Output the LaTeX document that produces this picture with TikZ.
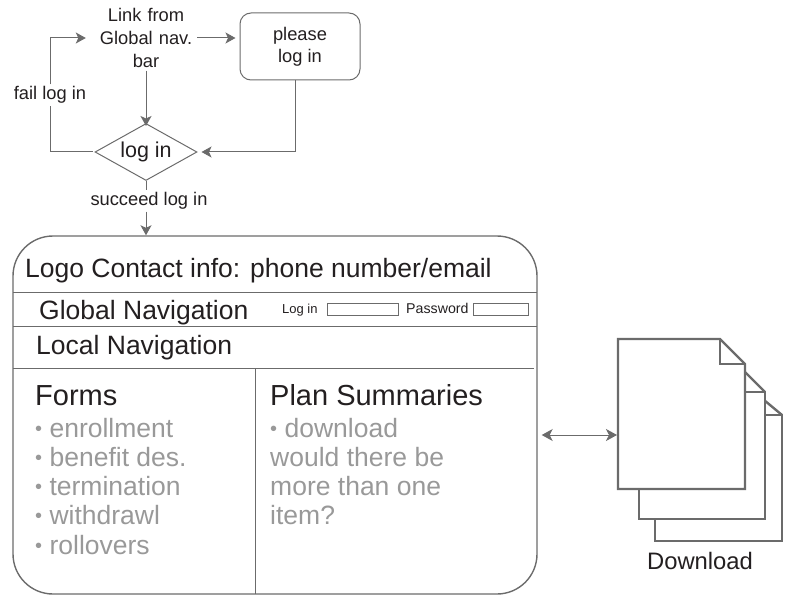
\documentclass[tikz,border=0pt]{standalone}
\usepackage{fontspec}
\setmainfont{Liberation Sans}
\usetikzlibrary{shapes.geometric, arrows.meta}
\definecolor{linegray}{HTML}{6B6B6B}
\definecolor{itemgray}{HTML}{999999}
\definecolor{textdark}{HTML}{231F20}
\newcommand{\fsize}[1]{\fontsize{#1}{#1}\selectfont}
\newcommand{\dotmark}{{\fsize{20}\raisebox{1.5pt}{•}}}
\begin{document}
\begin{tikzpicture}[x=1pt, y=-1pt, text=textdark]
		\tikzstyle{Flow} = [inner sep=0pt, align=center, font=\fsize{18.3}]
		\tikzstyle{Label} = [Flow, fill=white, inner sep=2pt]
		\tikzstyle{Box} = [rectangle, rounded corners=11pt, minimum width=120pt, minimum height=67pt, align=center, font=\fsize{18.3}, draw=linegray, line width=1pt]
		\tikzstyle{Decision} = [diamond, aspect=1.79, minimum width=102pt, minimum height=57pt, inner sep=0pt, font=\fsize{21.5}, draw=linegray, line width=1pt]
		\tikzstyle{arrow} = [line width=1pt, draw=linegray, -{Stealth[length=10pt, width=11pt, inset=2.5pt]}]
		\tikzstyle{plain} = [line width=1pt, draw=linegray]
		\tikzstyle{Big} = [inner sep=0pt, anchor=base west, font=\fsize{26.5}]
		\tikzstyle{Head} = [Big, font=\fsize{29}]
		\tikzstyle{Item} = [Big, text=itemgray]
		\tikzstyle{Small} = [inner sep=0pt, anchor=base west, font=\fsize{13}]
		\tikzstyle{Field} = [line width=1pt, draw=linegray]
		\tikzstyle{Sheet} = [line width=2.4pt, draw=linegray, fill=white, line join=miter]
		
		\useasboundingbox (0,0) rectangle (791,596);
		
		\node (link) [Flow, text width=100pt, inner ysep=3pt] at (146,38) {Link from\\[4.5pt]Global nav.\\[4.5pt]bar};
		\node (please) [Box] at (300,46.5) {please\\[3.5pt]log in};
		\node (login) [Decision] at (146,152) {log in};
		\node (fail) [Label] at (50,95) {fail log in};
		\node (succeed) [Label] at (149,201) {succeed log in};
		\node (page) [rectangle, rounded corners=40pt, minimum width=524pt, minimum height=358pt, draw=linegray, line width=1.4pt] at (275,415) {};
		
		\draw [arrow] ([xshift=1pt]link.east |- link) -- ([xshift=-4pt]please.west |- link);
		\draw [arrow] (link.south) -- ([yshift=-3pt]login.north);
		\draw [arrow] ([xshift=-5pt]please.south) |- ([xshift=4pt]login.east);
		\draw [plain] ([xshift=-2pt]login.west) -| (fail.south);
		\draw [arrow] (fail.north) |- ([xshift=-10pt]link.west);
		\draw [plain] (login.south) -- (login.south |- succeed.north);
		\draw [arrow] (login.south |- succeed.south) -- (login.south |- page.north);
		
		\draw [plain] (13,292) -- (537,292);
		\draw [plain] (13,326) -- (537,326);
		\draw [plain] (13,368) -- (534,368);
		\draw [plain] (255,368) -- (255,594);
		
		\node (logo) [Big] at (25,277) {Logo Contact info: phone number/email};
		\node (global) [Big] at (39,319) {Global Navigation};
		\node (loginlabel) [Small] at (282,313) {Log in};
		\draw [Field] (327,303) rectangle (398,315);
		\node (password) [Small, font=\fsize{14.2}] at (406,313) {Password};
		\draw [Field] (473,303) rectangle (528,315);
		\node (local) [Big] at (36,354) {Local Navigation};
		
		\node (forms) [Head] at (35,405) {Forms};
		\node (enroll) [Item] at (35,437) {\dotmark{} enrollment};
		\node (benefit) [Item] at (35,466) {\dotmark{} benefit des.};
		\node (termin) [Item] at (35,495) {\dotmark{} termination};
		\node (withdraw) [Item] at (35,524) {\dotmark{} withdrawl};
		\node (rollover) [Item] at (35,554) {\dotmark{} rollovers};
		
		\node (plans) [Head] at (270,405) {Plan Summaries};
		\node (down) [Item] at (270,437) {\dotmark{} download};
		\node (would) [Item] at (270,466) {would there be};
		\node (more) [Item] at (270,495) {more than one};
		\node (item) [Item] at (270,524) {item?};
		
		\draw [Sheet] (655,415) -- (782,415) -- (782,541) -- (655,541) -- cycle;
		\draw [Sheet] (764,400) -- (782,415);
		\draw [Sheet] (639,392) -- (765,392) -- (765,519) -- (639,519) -- cycle;
		\draw [Sheet] (745,372) -- (765,392);
		\draw [Sheet] (618,339) -- (720,339) -- (745,364) -- (745,489) -- (618,489) -- cycle;
		\draw [line width=2.4pt, draw=linegray] (720,339) -- (720,364) -- (745,364);
		
		\node (docs) [Flow, font=\fsize{23.8}] at (700,561) {Download};
		\coordinate (sheet) at (617,435);
		\draw [line width=1pt, draw=linegray, {Stealth[length=11pt, width=12pt, inset=3pt]}-{Stealth[length=11pt, width=12pt, inset=3pt]}] ([xshift=4pt]page.east |- sheet) -- (sheet);
\end{tikzpicture}
\end{document}
